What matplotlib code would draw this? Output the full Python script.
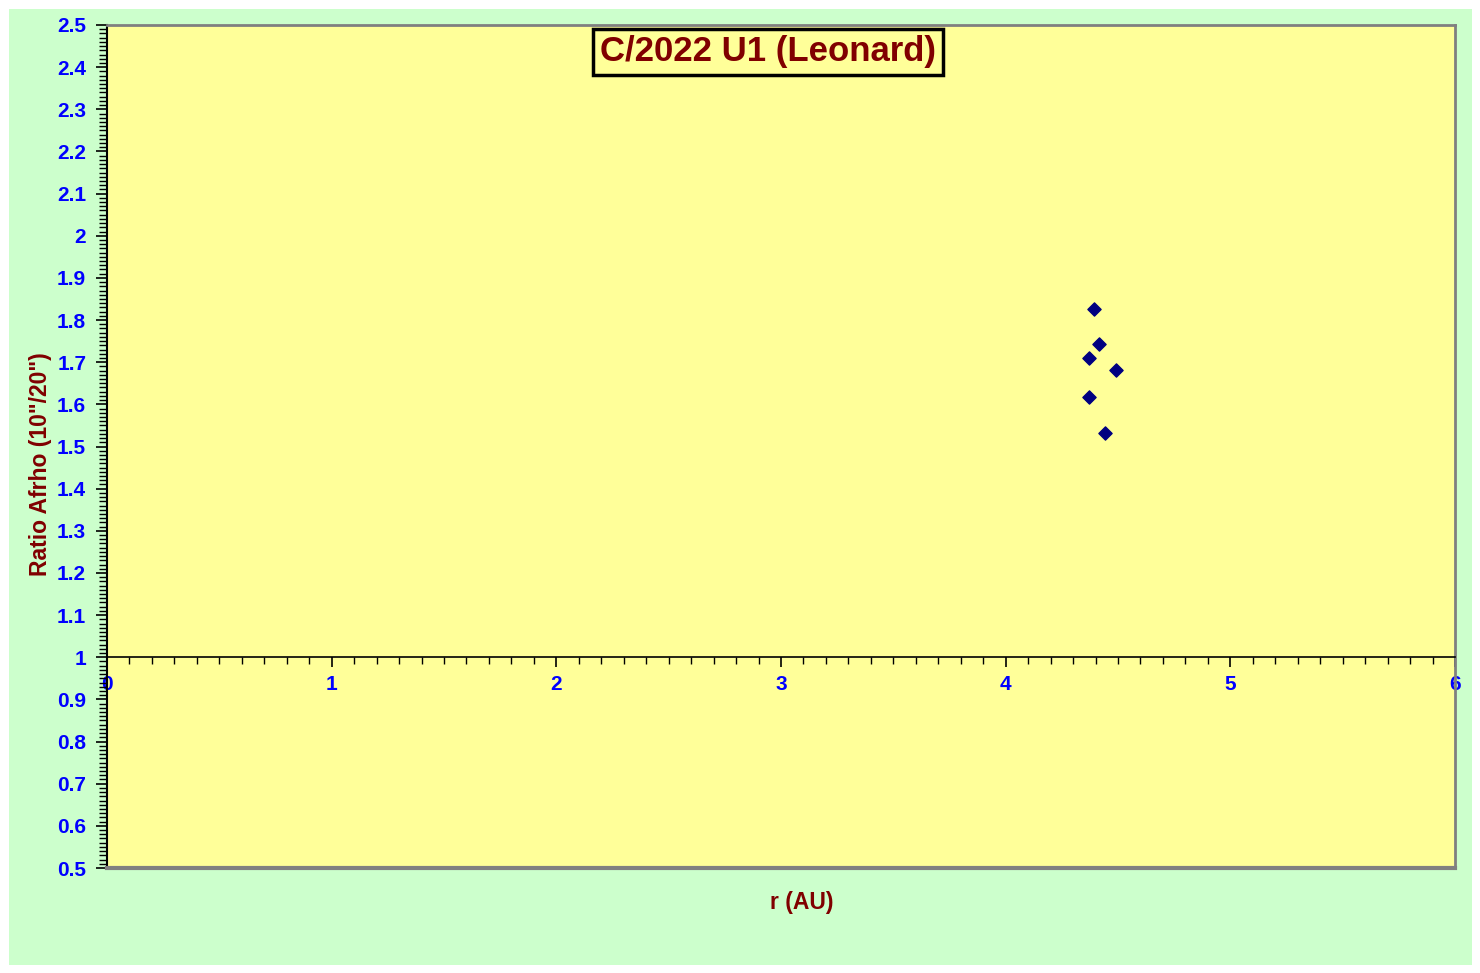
import matplotlib
matplotlib.use("Agg")
import matplotlib.pyplot as plt
from matplotlib.patches import Rectangle
from matplotlib.ticker import MultipleLocator, FuncFormatter

r_au = [4.394, 4.417, 4.370, 4.490, 4.370, 4.441]
ratio = [1.826, 1.743, 1.711, 1.681, 1.618, 1.531]
title = "C/2022 U1 (Leonard)"
xlabel = "r (AU)"
ylabel = 'Ratio Afrho (10"/20")'

W, H = 1480, 973
fig = plt.figure(figsize=(W / 100, H / 100), dpi=100)
fig.patch.set_facecolor("white")
fig.patches.append(Rectangle((9 / W, 1 - 965 / H), (1472 - 9) / W, (965 - 9) / H,
                             transform=fig.transFigure, facecolor="#CCFFCC",
                             edgecolor="none", zorder=-1))

ax = fig.add_axes([107 / W, 1 - 868 / H, (1455 - 107) / W, (868 - 25) / H])
ax.set_zorder(1)
ax.set_facecolor("#FFFF99")
ax.set_xlim(0, 6)
ax.set_ylim(0.5, 2.5)

for s in ["top", "right"]:
    ax.spines[s].set_color("#808080")
    ax.spines[s].set_linewidth(2)
ax.spines["left"].set_color("black")
ax.spines["left"].set_linewidth(1.5)
ax.spines["bottom"].set_position(("data", 1.0))
ax.spines["bottom"].set_color("black")
ax.spines["bottom"].set_linewidth(1.2)
ax.plot([0, 1], [0, 0], transform=ax.transAxes, color="#808080", lw=3, clip_on=False, zorder=5)

ax.xaxis.set_major_locator(MultipleLocator(1))
ax.xaxis.set_minor_locator(MultipleLocator(0.1))
ax.yaxis.set_major_locator(MultipleLocator(0.1))
ax.yaxis.set_minor_locator(MultipleLocator(0.01))

def yfmt(v, pos):
    s = f"{v:.1f}"
    if s.endswith(".0"):
        s = s[:-2]
    return s

ax.yaxis.set_major_formatter(FuncFormatter(yfmt))
ax.xaxis.set_major_formatter(FuncFormatter(lambda v, p: f"{v:.0f}"))

ax.tick_params(axis="y", which="major", direction="out", length=8, width=1.2, color="black",
               labelsize=15, labelcolor="#0000FF", pad=7)
ax.tick_params(axis="y", which="minor", direction="out", length=6, width=1, color="black")
ax.tick_params(axis="x", which="major", direction="out", length=7, width=1.2, color="black",
               labelsize=15, labelcolor="#0000FF", pad=6)
ax.tick_params(axis="x", which="minor", direction="out", length=5, width=1, color="black")
for lbl in ax.get_xticklabels() + ax.get_yticklabels():
    lbl.set_fontweight("bold")
    lbl.set_fontfamily("Liberation Sans")

ax.scatter(r_au, ratio, marker="D", s=45, color="#000080", edgecolors="#000080", zorder=6)

fig.text(802 / W, 1 - 902 / H, xlabel, ha="center", va="center", fontsize=16.5,
         fontweight="bold", color="#800000", family="Liberation Sans")
fig.text(41 / W, 1 - 464 / H, ylabel, ha="center", va="center", rotation=90, fontsize=16.5,
         fontweight="bold", color="#800000", family="Liberation Sans")

fig.text(768 / W, 1 - 52 / H, title, ha="center", va="center",
         fontsize=25, fontweight="bold", color="#800000", family="Liberation Sans",
         bbox=dict(boxstyle="square,pad=0.2", facecolor="#FFFF99", edgecolor="black", linewidth=2.5),
         zorder=7)

fig.savefig("out.png", dpi=100, facecolor=fig.get_facecolor())
